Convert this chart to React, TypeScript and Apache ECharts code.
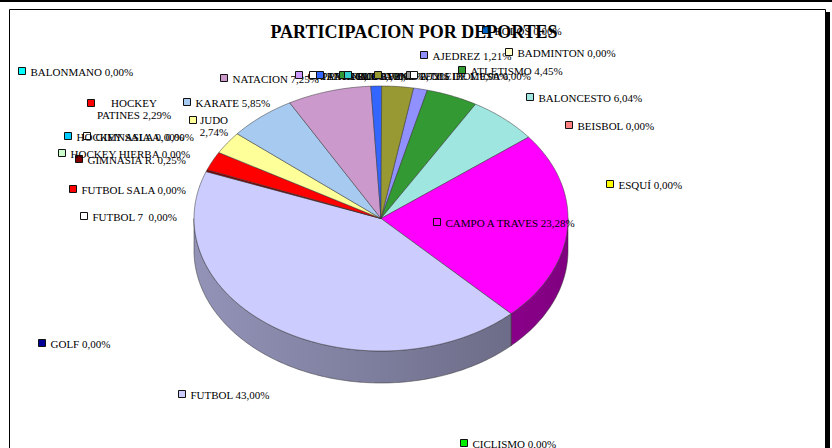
import { useEffect, useRef } from "react";
import * as echarts from "echarts";

// ---- data ----
const sports = [
  "AJEDREZ", "ATLETISMO", "BADMINTON", "BALONCESTO", "BALONMANO", "BEISBOL", "BOLOS",
  "CAMPO A TRAVES", "CICLISMO", "ESQUÍ", "FUTBOL", "FUTBOL 7 ", "FUTBOL SALA", "GIMNASIA A.",
  "GIMNASIA R.", "GOLF", "HOCKEY HIERBA", "HOCKEY PATINES", "HOCKEY SALA", "JUDO", "KARATE",
  "NATACION", "ORIENTACION", "PADEL", "PATINAJE", "PELOTA", "RUGBY", "TENIS", "TENIS DE MESA",
  "VOLEIBOL",
];
const percentages = [
  1.21, 4.45, 0, 6.04, 0, 0, 0,
  23.28, 0, 0, 43.0, 0, 0, 0,
  0.25, 0, 0, 2.29, 0, 2.74, 5.85,
  7.25, 0, 0, 0.92, 0, 0, 2.72, 0,
  0,
];
const chartTitle = "PARTICIPACION POR DEPORTES";

// ---- styles / layout ----
const sliceColors = [
  "#9090FF", "#339933", "#FFFFCC", "#A0E6E0", "#00FFFF", "#FF8080", "#0066CC",
  "#FF00FF", "#00EE00", "#FFFF00", "#CCCCFF", "#FFFFFF", "#FF0000", "#FFFFFF",
  "#800000", "#000099", "#CCFFCC", "#FF0000", "#00CCFF", "#FFFF99", "#A6CAF0",
  "#CC99CC", "#CC99FF", "#FFFFFF", "#3366FF", "#339933", "#33CCCC", "#999933", "#969696",
  "#FFFFFF",
];
// key square centre (x, y); optional: split after n words, centre x of text block
const labelLayout: Record<string, { kx: number; ky: number; split?: number; cx?: number }> = {
  "AJEDREZ": { kx: 424, ky: 55 },
  "ATLETISMO": { kx: 462, ky: 70 },
  "BADMINTON": { kx: 509, ky: 52 },
  "BALONCESTO": { kx: 530, ky: 97 },
  "BALONMANO": { kx: 22, ky: 71 },
  "BEISBOL": { kx: 569, ky: 125 },
  "BOLOS": { kx: 486, ky: 30 },
  "CAMPO A TRAVES": { kx: 437, ky: 222 },
  "CICLISMO": { kx: 464, ky: 443 },
  "ESQUÍ": { kx: 610, ky: 184 },
  "FUTBOL": { kx: 182, ky: 394 },
  "FUTBOL 7 ": { kx: 84, ky: 216 },
  "FUTBOL SALA": { kx: 73, ky: 189 },
  "GIMNASIA A.": { kx: 87, ky: 136 },
  "GIMNASIA R.": { kx: 79, ky: 159 },
  "GOLF": { kx: 42, ky: 343 },
  "HOCKEY HIERBA": { kx: 62, ky: 153 },
  "HOCKEY PATINES": { kx: 91, ky: 103, split: 1, cx: 134 },
  "HOCKEY SALA": { kx: 68, ky: 136 },
  "JUDO": { kx: 193, ky: 120, split: 1, cx: 214 },
  "KARATE": { kx: 187, ky: 102 },
  "NATACION": { kx: 224, ky: 78 },
  "ORIENTACION": { kx: 299, ky: 75 },
  "PADEL": { kx: 313, ky: 75 },
  "PATINAJE": { kx: 320, ky: 75 },
  "PELOTA": { kx: 343, ky: 75 },
  "RUGBY": { kx: 348, ky: 75 },
  "TENIS": { kx: 378, ky: 75 },
  "TENIS DE MESA": { kx: 410, ky: 75 },
  "VOLEIBOL": { kx: 414, ky: 75 },
};

const CX = 381;
const CY = 218.5;
const RX = 187;
const RY = 132.5;
const DEPTH = 32;
const START_DEG = 10;
const FONT = "'Liberation Serif', 'Times New Roman', serif";

function shade(hex: string, f: number) {
  const n = parseInt(hex.slice(1), 16);
  const r = Math.round(((n >> 16) & 255) * f);
  const g = Math.round(((n >> 8) & 255) * f);
  const b = Math.round((n & 255) * f);
  return `rgb(${r},${g},${b})`;
}

function pt(deg: number, dy = 0): number[] {
  const t = (deg * Math.PI) / 180;
  return [CX + RX * Math.sin(t), CY - RY * Math.cos(t) + dy];
}

function arc(a: number, b: number, dy = 0): number[][] {
  const pts: number[][] = [];
  const steps = Math.max(2, Math.ceil((b - a) / 1));
  for (let s = 0; s <= steps; s++) pts.push(pt(a + ((b - a) * s) / steps, dy));
  return pts;
}

function fmt(v: number) {
  return v.toFixed(2).replace(".", ",") + "%";
}

export default function App() {
  const ref = useRef<HTMLDivElement>(null);

  useEffect(() => {
    if (!ref.current) return;
    const chart = echarts.init(ref.current, undefined, { renderer: "svg" });
    const total = percentages.reduce((a, b) => a + b, 0);
    const starts: number[] = [];
    let acc = 0;
    percentages.forEach((v) => {
      starts.push(acc);
      acc += v;
    });
    const data = percentages.map((v, i) => ({ name: sports[i], value: [v] }));

    const pieRender = (params: any, api: any) => {
      const i = params.dataIndex;
      const v = api.value(0) as number;
      if (!v) return { type: "group", children: [] };
      const a = START_DEG + (starts[i] / total) * 360;
      const b = a + (v / total) * 360;
      const color = sliceColors[i];
      const children: any[] = [];
      for (const k of [-360, 0, 360]) {
        const lo = Math.max(a, 90 + k);
        const hi = Math.min(b, 270 + k);
        if (hi > lo) {
          const top = arc(lo, hi, 0);
          const bot = arc(lo, hi, DEPTH).reverse();
          children.push({
            type: "polygon",
            shape: { points: top.concat(bot) },
            style: {
              fill: new echarts.graphic.LinearGradient(
                CX - RX, 0, CX + RX, 0,
                [
                  { offset: 0, color: shade(color, 0.72) },
                  { offset: 1, color: shade(color, 0.5) },
                ],
                true
              ),
              stroke: "#333",
              lineWidth: 0.5,
            },
          });
        }
      }
      const topPts = [[CX, CY]].concat(arc(a, b, 0));
      children.push({
        type: "polygon",
        shape: { points: topPts },
        style: { fill: color, stroke: "#333", lineWidth: 0.5 },
      });
      return { type: "group", children };
    };

    const labelRender = (params: any, api: any) => {
      const i = params.dataIndex;
      const v = api.value(0) as number;
      const name = sports[i];
      const lay = labelLayout[name];
      if (!lay) return { type: "group", children: [] };
      let text = `${name} ${fmt(v)}`;
      const children: any[] = [
        {
          type: "rect",
          shape: { x: lay.kx - 3.5, y: lay.ky - 3.5, width: 7, height: 7 },
          style: { fill: sliceColors[i], stroke: "#111", lineWidth: 1 },
          z2: 10,
        },
      ];
      if (lay.split) {
        const words = text.split(" ");
        text = words.slice(0, lay.split).join(" ") + "\n" + words.slice(lay.split).join(" ");
        children.push({
          type: "text",
          x: lay.cx,
          y: lay.ky - 6.5,
          style: {
            text,
            fill: "#000",
            font: `11px ${FONT}`,
            align: "center",
            verticalAlign: "top",
            lineHeight: 12.5,
          },
          z2: 10,
        });
      } else {
        children.push({
          type: "text",
          x: lay.kx + 8.5,
          y: lay.ky + 0.5,
          style: {
            text,
            fill: "#000",
            font: `11px ${FONT}`,
            align: "left",
            verticalAlign: "middle",
          },
          z2: 10,
        });
      }
      return { type: "group", children };
    };

    chart.setOption({
      animation: false,
      backgroundColor: "#fff",
      title: {
        text: chartTitle,
        left: 409,
        textAlign: "center",
        top: 18,
        textStyle: { fontFamily: FONT, fontWeight: "bold", fontSize: 18, color: "#000" },
      },
      graphic: [
        { type: "rect", shape: { x: 0, y: 0, width: 832, height: 2 }, style: { fill: "#000" }, z: -10 },
        { type: "rect", shape: { x: 12, y: 12, width: 818, height: 470 }, style: { fill: "#000" }, z: -10 },
        {
          type: "rect",
          shape: { x: 9.5, y: 9.5, width: 816, height: 470 },
          style: { fill: "#fff", stroke: "#000", lineWidth: 1 },
          z: -9,
        },
      ],
      series: [
        {
          type: "custom",
          coordinateSystem: "none",
          renderItem: pieRender,
          data,
          z: 2,
          silent: true,
        },
        {
          type: "custom",
          coordinateSystem: "none",
          renderItem: labelRender,
          data,
          z: 5,
          silent: true,
        },
      ],
    });
    return () => chart.dispose();
  }, []);

  return (
    <div
      ref={ref}
      style={{ position: "fixed", left: 0, top: 0, width: 832, height: 448 }}
    />
  );
}
